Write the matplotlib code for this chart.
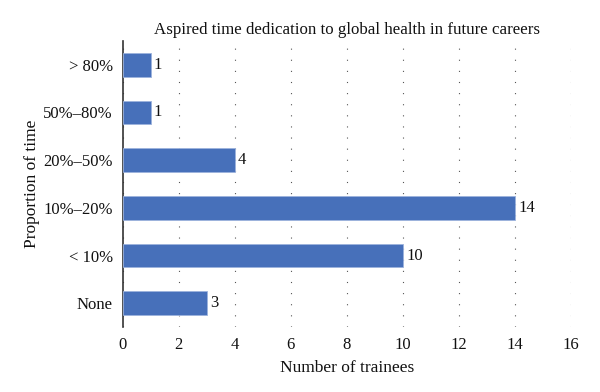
import matplotlib
matplotlib.use("Agg")
import matplotlib.pyplot as plt

categories = ["None", "< 10%", "10%–20%", "20%–50%", "50%–80%", "> 80%"]
values = [3, 10, 14, 4, 1, 1]
xticks = [0, 2, 4, 6, 8, 10, 12, 14, 16]

plt.rcParams['font.family'] = ['Liberation Serif', 'DejaVu Serif']

fig = plt.figure(figsize=(6, 3.92), dpi=100)
ax = fig.add_axes([122.5/600, 1-327/392, (571-122.5)/600, (327-41)/392])

ypos = list(range(len(categories)))
ax.barh(ypos, values, height=0.5, color='#4770BA', edgecolor='#9DB3DD', linewidth=0.6, zorder=3)
for y, v in zip(ypos, values):
    ax.text(v + 0.12, y, str(v), va='center', ha='left', fontsize=12, color='#111111')

ax.set_xlim(0, 16)
ax.set_ylim(-0.5, 5.5)
ax.set_xticks(xticks)
ax.set_yticks(ypos)
ax.set_yticklabels(categories)
ax.tick_params(axis='both', length=0, labelsize=12, colors='#111111')
ax.tick_params(axis='x', pad=7)
ax.tick_params(axis='y', pad=7)

for s in ['top', 'right', 'bottom']:
    ax.spines[s].set_visible(False)
ax.spines['left'].set_color('#333333')
ax.spines['left'].set_linewidth(1.2)

ax.xaxis.grid(True, linestyle=(0, (1, 9)), color='#555555', linewidth=0.8, zorder=0)
ax.set_axisbelow(True)

ax.set_title("Aspired time dedication to global health in future careers", fontsize=12.2, pad=5, color='#111111')
ax.set_xlabel("Number of trainees", fontsize=12.5, labelpad=5, color='#111111')
ax.set_ylabel("Proportion of time", fontsize=12.5, labelpad=2, color='#111111')

fig.savefig("out.png", dpi=100)
